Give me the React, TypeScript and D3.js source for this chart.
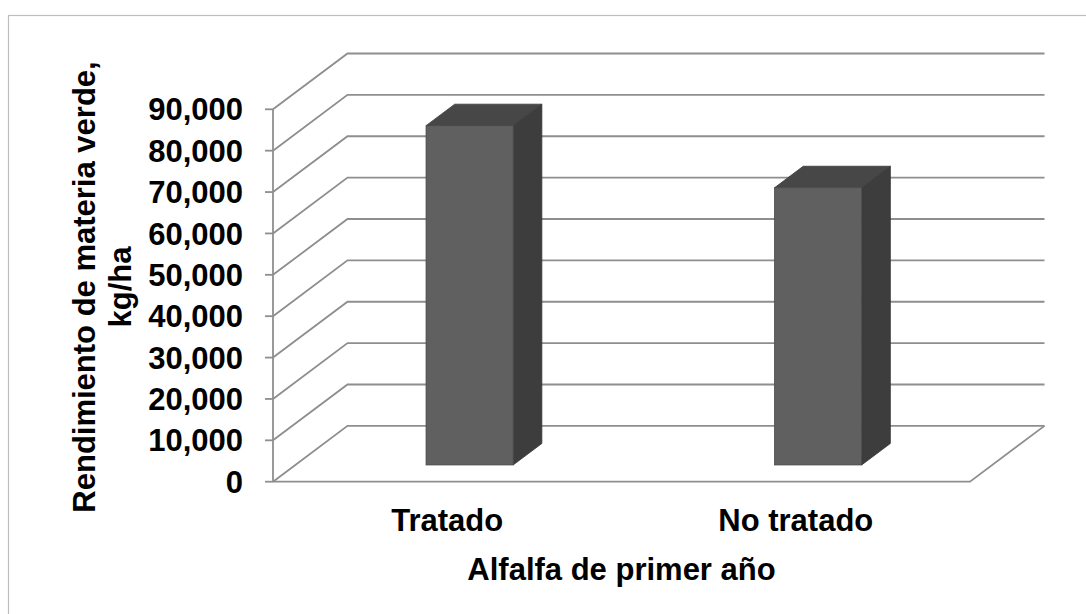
import React from 'react';
import * as d3 from 'd3';

// Yield of green matter per treatment (kg/ha)
const categories: string[] = ['Tratado', 'No tratado'];
const yields: number[] = [82000, 67000];
const yTicks: number[] = [0, 10000, 20000, 30000, 40000, 50000, 60000, 70000, 80000, 90000];

const yTitleLines: string[] = ['Rendimiento de materia verde,', 'kg/ha'];
const xTitle = 'Alfalfa de primer año';

const W = 1086;
const H = 614;

// front plane of the 3D box
const plot = { left: 273, right: 970, bottom: 481.7, top: 109.3 };
// oblique depth vector from the front plane to the back wall
const depth = { dx: 74.5, dy: -55.8 };
// bars sit in the middle of the depth
const barFront = 0.3;
const barBack = 0.685;
const barWidthRatio = 0.25;

const gridColor = '#8e8e8e';
const fontFamily = '"Liberation Sans", Arial, sans-serif';

export default function App() {
  const y = d3.scaleLinear().domain([0, 90000]).range([plot.bottom, plot.top]);
  const x = d3.scaleBand<string>().domain(categories).range([plot.left, plot.right]).padding(0);
  const fmt = d3.format(',');

  const off = (t: number) => [t * depth.dx, t * depth.dy];
  const line = d3.line<[number, number]>();

  const bw = x.bandwidth() * barWidthRatio;
  const [fdx, fdy] = off(barFront);
  const [bdx, bdy] = off(barBack);

  return (
    <svg
      width={W}
      height={H}
      style={{ position: 'absolute', left: 0, top: 0, background: '#fff' }}
      fontFamily={fontFamily}
      fontWeight="bold"
    >
      {/* chart area border */}
      <rect x={8.5} y={15.5} width={1200} height={700} fill="none" stroke="#bdbdbd" strokeWidth={1.2} />

      {/* gridlines: left wall diagonals and back wall horizontals */}
      {yTicks.map((v) => {
        const yy = y(v);
        const pts: [number, number][] = [
          [plot.left, yy],
          [plot.left + depth.dx, yy + depth.dy],
          [plot.right + depth.dx, yy + depth.dy],
        ];
        return <path key={'g' + v} d={line(pts) || ''} fill="none" stroke={gridColor} strokeWidth={1.8} />;
      })}

      {/* value axis line and ticks */}
      <line x1={plot.left} x2={plot.left} y1={y(0)} y2={y(90000)} stroke={gridColor} strokeWidth={1.8} />
      {yTicks.map((v) => (
        <line key={'t' + v} x1={plot.left - 8} x2={plot.left} y1={y(v)} y2={y(v)} stroke={gridColor} strokeWidth={1.8} />
      ))}

      {/* floor: front edge and right edge */}
      <path
        d={
          line([
            [plot.left, y(0)],
            [plot.right, y(0)],
            [plot.right + depth.dx, y(0) + depth.dy],
          ]) || ''
        }
        fill="none"
        stroke={gridColor}
        strokeWidth={1.8}
      />

      {/* bars */}
      {categories.map((c, i) => {
        const cx = (x(c) as number) + x.bandwidth() / 2;
        const xl = cx - bw / 2;
        const xr = cx + bw / 2;
        const yt = y(yields[i]);
        const yb = y(0);
        const top: [number, number][] = [
          [xl + fdx, yt + fdy],
          [xr + fdx, yt + fdy],
          [xr + bdx, yt + bdy],
          [xl + bdx, yt + bdy],
        ];
        const side: [number, number][] = [
          [xr + fdx, yt + fdy],
          [xr + bdx, yt + bdy],
          [xr + bdx, yb + bdy],
          [xr + fdx, yb + fdy],
        ];
        return (
          <g key={c}>
            <path d={(line(side) || '') + 'Z'} fill="#3d3d3d" stroke="#363636" strokeWidth={0.8} />
            <path d={(line(top) || '') + 'Z'} fill="#474747" stroke="#3a3a3a" strokeWidth={0.8} />
            <rect x={xl + fdx} y={yt + fdy} width={bw} height={yb - yt} fill="#606060" stroke="#4a4a4a" strokeWidth={0.8} />
          </g>
        );
      })}

      {/* value tick labels */}
      {yTicks.map((v) => (
        <text key={'l' + v} x={243} y={y(v)} dy="0.36em" textAnchor="end" fontSize={31} fill="#000">
          {fmt(v)}
        </text>
      ))}

      {/* category labels */}
      {categories.map((c) => (
        <text key={'c' + c} x={(x(c) as number) + x.bandwidth() / 2} y={531} textAnchor="middle" fontSize={31} fill="#000">
          {c}
        </text>
      ))}

      {/* axis titles */}
      <text x={(plot.left + plot.right) / 2} y={580} textAnchor="middle" fontSize={31} fill="#000">
        {xTitle}
      </text>
      <text transform="translate(95,287) rotate(-90)" textAnchor="middle" fontSize={31} fill="#000">
        <tspan x={0} y={0}>{yTitleLines[0]}</tspan>
        <tspan x={0} y={36}>{yTitleLines[1]}</tspan>
      </text>
    </svg>
  );
}
